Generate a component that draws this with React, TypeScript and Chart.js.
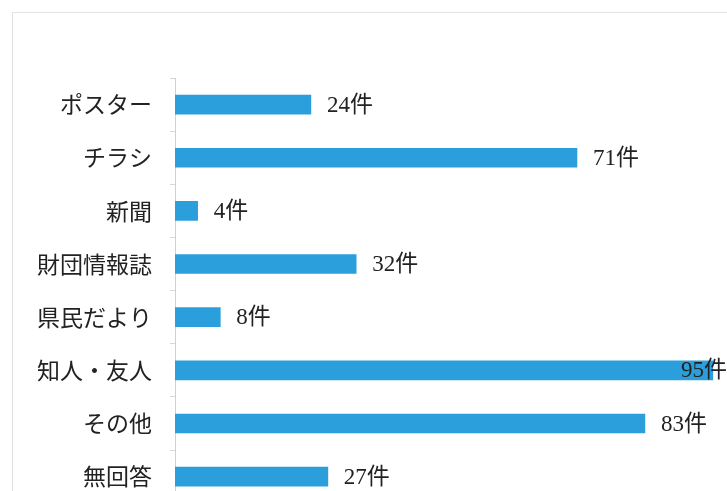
import React, { useEffect, useRef } from "react";
import { Chart, registerables } from "chart.js";

Chart.register(...registerables);

const categories = ["ポスター", "チラシ", "新聞", "財団情報誌", "県民だより", "知人・友人", "その他", "無回答"];
const counts = [24, 71, 4, 32, 8, 95, 83, 27];
const unit = "件";

const labelPlugin = {
  id: "valueLabels",
  afterDatasetsDraw(chart: any) {
    const ctx = chart.ctx;
    const meta = chart.getDatasetMeta(0);
    ctx.save();
    ctx.font = "23px 'Liberation Serif', 'Noto Sans CJK JP'";
    ctx.fillStyle = "#222";
    ctx.textBaseline = "middle";
    ctx.textAlign = "left";
    meta.data.forEach((bar: any, i: number) => {
      const text = `${counts[i]}${unit}`;
      const w = ctx.measureText(text).width;
      const x = Math.min(bar.x + 16, chart.width - w);
      ctx.fillText(text, x, bar.y + 1);
    });
    ctx.restore();
  },
};

export default function App() {
  const ref = useRef<HTMLCanvasElement>(null);
  useEffect(() => {
    if (!ref.current) return;
    const chart = new Chart(ref.current, {
      type: "bar",
      data: {
        labels: categories,
        datasets: [
          {
            data: counts,
            backgroundColor: "#2b9fdc",
            barThickness: 19,
          },
        ],
      },
      options: {
        indexAxis: "y",
        animation: false,
        responsive: false,
        devicePixelRatio: 1,
        layout: { padding: { top: 78, bottom: 0, left: 0, right: 0 } },
        plugins: { legend: { display: false }, tooltip: { enabled: false } },
        scales: {
          x: { display: false, min: 0, max: 97.5 },
          y: {
            afterFit: (s: any) => {
              s.width = 175;
            },
            grid: {
              offset: true,
              drawOnChartArea: false,
              tickLength: 5,
              color: "#d8d8d8",
            },
            border: { color: "#d0d0d0" },
            ticks: {
              padding: 18,
              color: "#222",
              font: { family: "'Noto Sans CJK JP'", size: 23 },
            },
          },
        },
      },
      plugins: [labelPlugin],
    });
    return () => chart.destroy();
  }, []);
  return (
    <div style={{ position: "fixed", left: 0, top: 0, width: 727, height: 491, overflow: "hidden", background: "#fff" }}>
      <div style={{ position: "absolute", left: 12, top: 12, right: 0, bottom: 0, borderLeft: "1px solid #e2e2e2", borderTop: "1px solid #e2e2e2" }} />
      <canvas ref={ref} width={727} height={535} style={{ position: "absolute", left: 0, top: 0 }} />
    </div>
  );
}
